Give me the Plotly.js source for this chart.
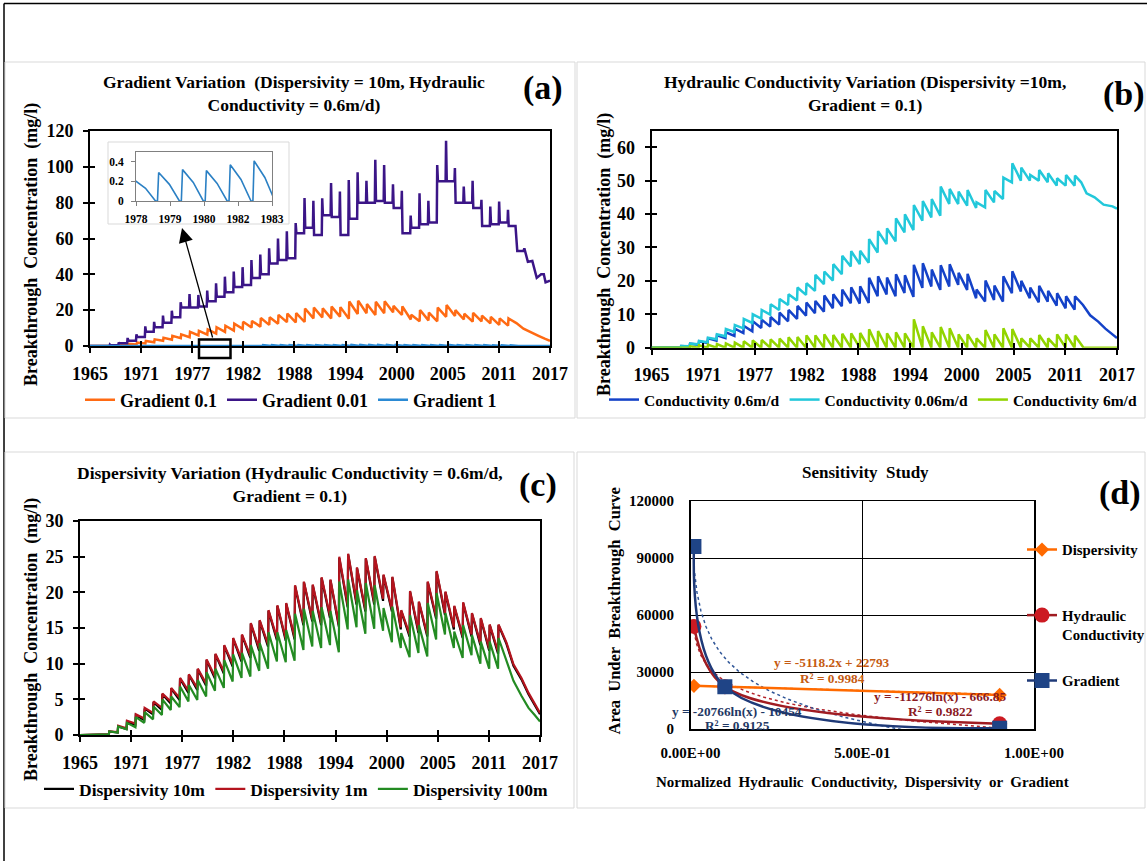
<!DOCTYPE html>
<html>
<head>
<meta charset="utf-8">
<script src="https://cdn.plot.ly/plotly-3.0.1.min.js"></script>
<style>
  html, body { margin: 0; padding: 0; background: #fff; overflow: hidden; }
  #fig { display: block; width: 1147px; height: 861px; overflow: hidden; }
</style>
</head>
<body>
<div id="fig"></div>
<script>
// ---------------------------------------------------------------------------
// Time axis (a), (b), (c)
// ---------------------------------------------------------------------------
const YEAR_LABELS = ['1965', '1971', '1977', '1982', '1988', '1994', '2000', '2005', '2011', '2017'];
const X_START = 1965, X_END = 2017;
const FIRST_YEAR = 1967;                 // first yearly pulse, one value per year up to 2012

// Base case: dispersivity 10 m, conductivity 0.6 m/d, gradient 0.1 (mg/l)
const basePeak = [0.1, 0.5, 1.2, 1.9, 2.8, 3.7, 4.6, 5.7, 6.5, 7.9,
  8.4, 9.2, 10.5, 11.3, 12.5, 13.5, 14.0, 15.6, 16.0, 17.4,
  18.1, 18.4, 20.9, 21.4, 21.0, 22.0, 21.7, 24.8, 25.3, 23.4,
  24.7, 25.0, 22.4, 22.1, 17.4, 20.1, 18.6, 21.4, 22.9, 20.0,
  18.0, 18.5, 17.0, 16.3, 15.4, 15.4];
const baseLow = [0, 0.1, 0.35, 0.85, 1.4, 2.1, 2.9, 3.5, 4.4, 4.9,
  5.9, 6.3, 6.9, 7.9, 8.6, 9.6, 10.3, 10.8, 11.8, 12.4,
  13.3, 13.2, 13.4, 15.4, 15.9, 15.4, 16.4, 15.2, 17.9, 18.3,
  17.3, 18.3, 18.8, 17.3, 14.8, 13.8, 14.3, 13.8, 16.3, 16.8,
  14.8, 13.6, 13.8, 12.6, 11.8, 11.4];
const TAIL_T = [2013.2, 2014.0, 2014.9, 2015.7, 2016.4, 2017.0];
const baseTail = [12.8, 9.7, 7.8, 5.7, 4.1, 2.9];

// Dispersivity 1 m
const disp1Peak = [0.1, 0.5, 1.3, 2.0, 2.9, 3.8, 4.7, 5.8, 6.6, 8.0,
  8.5, 9.3, 10.6, 11.4, 12.6, 13.6, 14.1, 15.7, 16.1, 17.5,
  18.2, 18.5, 21.0, 21.5, 21.1, 22.1, 21.8, 25.0, 25.4, 23.5,
  24.8, 25.1, 22.5, 22.2, 17.5, 20.2, 18.7, 21.5, 23.0, 20.1,
  18.1, 18.6, 17.1, 16.4, 15.5, 15.5];
const disp1Low = [0, 0.1, 0.4, 0.95, 1.6, 2.3, 3.1, 3.8, 4.7, 5.2,
  6.2, 6.6, 7.2, 8.2, 8.9, 9.9, 10.6, 11.1, 12.1, 12.7,
  13.6, 13.5, 13.7, 15.7, 16.2, 15.7, 16.7, 15.5, 18.2, 18.6,
  17.6, 18.6, 19.1, 17.6, 15.1, 14.1, 14.6, 14.1, 16.6, 17.1,
  15.1, 13.9, 14.1, 12.9, 12.1, 11.7];
const disp1Tail = [13.0, 9.9, 8.0, 5.9, 4.3, 3.1];

// Dispersivity 100 m
const disp100Peak = [0.1, 0.5, 1.2, 1.7, 2.5, 3.2, 4.0, 5.0, 5.4, 6.8,
  7.0, 7.7, 8.8, 9.3, 10.5, 11.3, 11.5, 12.6, 12.9, 14.4,
  14.4, 14.7, 17.0, 17.7, 17.4, 17.9, 17.4, 21.5, 21.8, 20.3,
  21.3, 21.0, 17.8, 18.0, 14.3, 16.8, 15.4, 18.5, 19.9, 17.1,
  14.5, 15.4, 14.0, 13.1, 13.1, 13.6];
const disp100Low = [0, 0.1, 0.35, 0.8, 1.1, 1.7, 2.2, 2.8, 3.5, 3.9,
  4.7, 4.9, 5.4, 6.2, 6.6, 7.5, 8.0, 8.2, 9.0, 9.3,
  10.3, 10.2, 10.4, 11.9, 12.4, 12.2, 12.6, 11.6, 14.8, 15.1,
  14.2, 14.9, 14.6, 13.0, 12.2, 10.9, 11.5, 11.0, 13.4, 14.1,
  12.2, 10.8, 11.2, 10.0, 9.3, 9.3];
const disp100Tail = [10.6, 7.6, 5.5, 3.8, 2.8, 1.9];

// Conductivity 0.06 m/d
const cond006Peak = [0.1, 0.5, 1.2, 2.0, 3.0, 4.0, 5.6, 6.8, 8.6, 10.0,
  11.3, 13.0, 14.6, 16.0, 18.0, 19.3, 21.8, 22.8, 25.0, 27.5,
  28.9, 29.0, 32.5, 34.9, 35.7, 38.7, 39.9, 42.7, 43.9, 44.5,
  48.2, 47.5, 46.7, 47.2, 43.5, 47.2, 46.9, 50.9, 55.2, 53.9,
  51.7, 53.2, 52.2, 50.7, 51.7, 51.5];
const cond006Low = [0, 0.1, 0.4, 1.0, 1.6, 2.5, 3.4, 4.7, 5.8, 7.4,
  8.7, 9.9, 11.3, 12.8, 14.1, 15.8, 17.0, 19.0, 20.1, 22.0,
  24.3, 25.0, 25.4, 28.5, 31.0, 31.8, 34.5, 35.2, 38.0, 39.0,
  39.5, 43.0, 43.0, 42.5, 41.8, 42.0, 43.5, 44.5, 49.5, 50.0,
  50.0, 50.0, 49.5, 48.5, 48.5, 48.5];
const cond006TailT = [2013.0, 2013.6, 2014.5, 2015.5, 2016.5, 2017.0];
const cond006Tail = [49.5, 46.2, 45.0, 42.8, 42.3, 41.6];

// Conductivity 6 m/d (falls back to zero between pulses)
const cond6Peak = [0, 0.2, 0.4, 0.7, 0.9, 1.1, 1.3, 1.5, 1.9, 2.2,
  2.3, 2.5, 2.7, 3.1, 3.2, 3.7, 3.7, 4.0, 3.8, 4.2,
  4.3, 4.4, 5.5, 5.0, 4.3, 4.6, 4.3, 8.5, 6.4, 4.6,
  6.2, 5.8, 4.0, 4.0, 2.8, 5.3, 4.0, 5.8, 5.6, 2.8,
  2.8, 3.8, 2.8, 4.0, 4.0, 3.6];
const cond6TailT = [2013.26, 2017.0];
const cond6Tail = [0, 0];

// Gradient 0.01: sharp spike, then a plateau until the next year
const grad001Peak = [0.8, 2.0, 4.5, 6.5, 11.0, 13.5, 17.0, 19.7, 24.4, 29.0,
  28.5, 31.0, 35.0, 38.7, 41.5, 44.0, 48.0, 51.0, 54.5, 60.0,
  64.0, 68.6, 82.6, 81.0, 82.5, 90.9, 86.2, 92.7, 97.0, 92.2,
  103.9, 101.0, 90.3, 86.6, 72.8, 85.3, 81.0, 101.0, 114.5, 99.3,
  89.0, 92.2, 81.6, 77.8, 80.6, 76.0];
const grad001Plateau = [0.4, 1.5, 3.0, 5.0, 8.0, 10.5, 13.0, 16.0, 21.5, 21.5,
  22.0, 25.0, 27.5, 30.0, 33.0, 34.0, 38.0, 40.0, 46.0, 48.0,
  49.0, 63.0, 66.0, 62.0, 73.0, 72.0, 62.0, 71.0, 80.0, 80.0,
  81.0, 80.0, 77.0, 63.0, 66.0, 68.0, 69.0, 92.0, 92.0, 80.0,
  80.0, 77.0, 67.0, 68.0, 69.0, 67.0];
const grad001TailT = [2013.1, 2013.3, 2014.0, 2014.1, 2014.5, 2015.0, 2015.5, 2016.0, 2016.3, 2016.5, 2017.0];
const grad001Tail = [67.0, 53.0, 53.0, 54.5, 47.0, 47.5, 38.0, 40.0, 40.0, 35.5, 36.5];

// Gradient 1: small pulses that decay to zero (shown in the inset)
const grad1Peak = [0.0, 0.01, 0.02, 0.04, 0.06, 0.08, 0.10, 0.12, 0.15, 0.18,
  0.21, 0.29, 0.32, 0.31, 0.37, 0.41, 0.42, 0.45, 0.46, 0.48,
  0.50, 0.50, 0.55, 0.56, 0.55, 0.57, 0.57, 0.62, 0.63, 0.60,
  0.62, 0.62, 0.58, 0.57, 0.48, 0.53, 0.50, 0.55, 0.58, 0.52,
  0.48, 0.48, 0.45, 0.43, 0.42, 0.41];
const grad1Shoulder = [0.0, 0.005, 0.01, 0.02, 0.035, 0.05, 0.06, 0.07, 0.09, 0.11,
  0.13, 0.17, 0.19, 0.18, 0.22, 0.24, 0.25, 0.27, 0.27, 0.29,
  0.30, 0.30, 0.33, 0.33, 0.33, 0.34, 0.34, 0.37, 0.38, 0.36,
  0.37, 0.37, 0.35, 0.34, 0.29, 0.32, 0.30, 0.33, 0.35, 0.31,
  0.29, 0.29, 0.27, 0.26, 0.25, 0.25];
const grad1TailT = [2017.0];
const grad1Tail = [0];

const INSET_LABELS = ['1978', '1979', '1980', '1982', '1983'];
const INSET_X = [1977.6, 1983.3];
const INSET_Y_TICKS = [0, 0.2, 0.4];

// ---------------------------------------------------------------------------
// Sensitivity study (d)
// ---------------------------------------------------------------------------
const NORM_X = [0.01, 0.1, 0.9];
const AREA_DISPERSIVITY = [22700, 22300, 17900];
const AREA_CONDUCTIVITY = [54000, 22300, 2800];
const AREA_GRADIENT = [96000, 22300, 400];
// fitted trendlines as reported on the chart
const DISP_SLOPE = -5118.2, DISP_ICPT = 22793, DISP_R2 = 0.9984;
const COND_A = -11276, COND_B = -666.85, COND_R2 = 0.9822;
const GRAD_A = -20766, GRAD_B = -10454, GRAD_R2 = 0.9125;
const D_X_TICKS = [0, 0.5, 1];
const D_X_LABELS = ['0.00E+00', '5.00E-01', '1.00E+00'];

// ---------------------------------------------------------------------------
// helpers
// ---------------------------------------------------------------------------
const W = 1147, H = 861;
const SERIF = '"Liberation Serif", "Times New Roman", serif';
const fnt = (size, color) => ({ family: SERIF, size: size, color: color || '#000', weight: 'bold' });
const px = v => v / W;          // page pixel -> paper x
const py = v => 1 - v / H;      // page pixel -> paper y

const yearTickVals = YEAR_LABELS.map((_, i) => X_START + i * (X_END - X_START) / (YEAR_LABELS.length - 1));
const insetTickVals = INSET_LABELS.map((_, i) => INSET_X[0] + i * (INSET_X[1] - INSET_X[0]) / (INSET_LABELS.length - 1));

// yearly pulse: value just before the rise, then the peak; linear recession in between
function pulseSeries(peaks, lows, tailT, tailV) {
  const x = [X_START], y = [0];
  peaks.forEach((p, i) => {
    const yr = FIRST_YEAR + i;
    x.push(yr + 0.26, yr + 0.31);
    y.push(typeof lows === 'number' ? lows : lows[i], p);
  });
  return { x: x.concat(tailT), y: y.concat(tailV) };
}
// yearly spike followed by a plateau
function spikeSeries(peaks, plateaus, tailT, tailV) {
  const x = [X_START], y = [0];
  peaks.forEach((p, i) => {
    const yr = FIRST_YEAR + i;
    x.push(yr + 0.20, yr + 0.25, yr + 0.33);
    y.push(i ? plateaus[i - 1] : 0, p, plateaus[i]);
  });
  return { x: x.concat(tailT), y: y.concat(tailV) };
}
// yearly pulse decaying back to zero before the next one
function decaySeries(peaks, shoulders, tailT, tailV) {
  const x = [X_START], y = [0];
  peaks.forEach((p, i) => {
    const yr = FIRST_YEAR + i;
    x.push(yr + 0.50, yr + 0.55, yr + 1.00, yr + 1.42);
    y.push(0, p, shoulders[i], 0);
  });
  return { x: x.concat(tailT), y: y.concat(tailV) };
}

const base = pulseSeries(basePeak, baseLow, TAIL_T, baseTail);
const disp1 = pulseSeries(disp1Peak, disp1Low, TAIL_T, disp1Tail);
const disp100 = pulseSeries(disp100Peak, disp100Low, TAIL_T, disp100Tail);
const cond006 = pulseSeries(cond006Peak, cond006Low, cond006TailT, cond006Tail);
const cond6 = pulseSeries(cond6Peak, 0, cond6TailT, cond6Tail);
const grad001 = spikeSeries(grad001Peak, grad001Plateau, grad001TailT, grad001Tail);
const grad1 = decaySeries(grad1Peak, grad1Shoulder, grad1TailT, grad1Tail);

function line(s, xa, ya, name, color, width, legend) {
  return { type: 'scatter', mode: 'lines', x: s.x, y: s.y, xaxis: xa, yaxis: ya, name: name,
           line: { color: color, width: width }, legend: legend, showlegend: !!legend, hoverinfo: 'skip' };
}
// trendline sample points, from the reported coefficients
function logFit(a, b) {
  const x = [], y = [];
  const n = 160, x0 = NORM_X[0], x1 = NORM_X[NORM_X.length - 1];
  for (let i = 0; i <= n; i++) {
    const v = x0 * Math.pow(x1 / x0, i / n);
    x.push(v); y.push(a * Math.log(v) + b);
  }
  return { x, y };
}
const dispFit = { x: [NORM_X[0], NORM_X[2]], y: [DISP_SLOPE * NORM_X[0] + DISP_ICPT, DISP_SLOPE * NORM_X[2] + DISP_ICPT] };
const condFit = logFit(COND_A, COND_B);
const gradFit = logFit(GRAD_A, GRAD_B);

const C = {
  orange: '#FF6A13', purple: '#3B1587', skyblue: '#2B8AD4',
  blue: '#1442C8', cyan: '#22C8DA', lime: '#92D400',
  black: '#000000', red: '#B4141E', green: '#238B22',
  dOrange: '#FF6A00', dRed: '#A01C22', dRedMk: '#CC1A22', dNavy: '#1F3A78', dNavyMk: '#1F4486'
};

const traces = [
  // (a)
  line(base, 'x', 'y', 'Gradient 0.1', C.orange, 2.5, 'legend'),
  line(grad001, 'x', 'y', 'Gradient 0.01', C.purple, 2.5, 'legend'),
  line(grad1, 'x', 'y', 'Gradient 1', C.skyblue, 2.5, 'legend'),
  line(grad1, 'x2', 'y2', 'Gradient 1 (1978-1983)', '#2B80C4', 1.6, null),
  // (b)
  line(base, 'x3', 'y3', 'Conductivity 0.6m/d', C.blue, 2.5, 'legend2'),
  line(cond006, 'x3', 'y3', 'Conductivity 0.06m/d', C.cyan, 2.5, 'legend2'),
  line(cond6, 'x3', 'y3', 'Conductivity 6m/d', C.lime, 2.5, 'legend2'),
  // (c)
  line(base, 'x4', 'y4', 'Dispersivity 10m', C.black, 2.2, 'legend3'),
  line(disp1, 'x4', 'y4', 'Dispersivity 1m', C.red, 2.2, 'legend3'),
  line(disp100, 'x4', 'y4', 'Dispersivity 100m', C.green, 2.2, 'legend3'),
  // (d) trendlines
  { type: 'scatter', mode: 'lines', x: dispFit.x, y: dispFit.y, xaxis: 'x5', yaxis: 'y5', showlegend: false,
    line: { color: C.dOrange, width: 1.5, dash: 'dot' }, hoverinfo: 'skip' },
  { type: 'scatter', mode: 'lines', x: condFit.x, y: condFit.y, xaxis: 'x5', yaxis: 'y5', showlegend: false,
    line: { color: '#B4232A', width: 1.5, dash: 'dot' }, hoverinfo: 'skip' },
  { type: 'scatter', mode: 'lines', x: gradFit.x, y: gradFit.y, xaxis: 'x5', yaxis: 'y5', showlegend: false,
    line: { color: '#2F5597', width: 1.5, dash: 'dot' }, hoverinfo: 'skip' },
  // (d) data
  { type: 'scatter', mode: 'lines+markers', x: NORM_X, y: AREA_DISPERSIVITY, xaxis: 'x5', yaxis: 'y5',
    name: 'Dispersivity', legend: 'legend4', line: { color: C.dOrange, width: 2.5, shape: 'spline' },
    marker: { symbol: 'diamond', size: 11, color: C.dOrange }, hoverinfo: 'skip' },
  { type: 'scatter', mode: 'lines+markers', x: NORM_X, y: AREA_CONDUCTIVITY, xaxis: 'x5', yaxis: 'y5',
    name: 'Hydraulic<br>Conductivity', legend: 'legend5', line: { color: C.dRed, width: 2.5, shape: 'spline' },
    marker: { symbol: 'circle', size: 15, color: C.dRedMk }, hoverinfo: 'skip' },
  { type: 'scatter', mode: 'lines+markers', x: NORM_X, y: AREA_GRADIENT, xaxis: 'x5', yaxis: 'y5',
    name: 'Gradient', legend: 'legend6', line: { color: C.dNavy, width: 2.5, shape: 'spline' },
    marker: { symbol: 'square', size: 15, color: C.dNavyMk }, hoverinfo: 'skip' },
  // carriers for the inner half of the crossing tick marks
  { type: 'scatter', x: [], y: [], xaxis: 'x6', yaxis: 'y', showlegend: false },
  { type: 'scatter', x: [], y: [], xaxis: 'x', yaxis: 'y6', showlegend: false },
  { type: 'scatter', x: [], y: [], xaxis: 'x7', yaxis: 'y3', showlegend: false },
  { type: 'scatter', x: [], y: [], xaxis: 'x3', yaxis: 'y7', showlegend: false },
  { type: 'scatter', x: [], y: [], xaxis: 'x8', yaxis: 'y4', showlegend: false },
  { type: 'scatter', x: [], y: [], xaxis: 'x4', yaxis: 'y8', showlegend: false }
];

// ---------------------------------------------------------------------------
// axes
// ---------------------------------------------------------------------------
function timeAxis(x0, x1, anchor) {
  return { domain: [px(x0), px(x1)], anchor: anchor, range: [X_START, X_END],
    tickmode: 'array', tickvals: yearTickVals, ticktext: YEAR_LABELS,
    ticks: 'outside', ticklen: 5, tickwidth: 2, tickcolor: '#000', ticklabelstandoff: 5,
    showline: true, linewidth: 2, linecolor: '#000', mirror: true,
    showgrid: false, zeroline: false, tickfont: fnt(18), layer: 'below traces', fixedrange: true };
}
function valueAxis(y0, y1, anchor, range, dtick) {
  return { domain: [py(y1), py(y0)], anchor: anchor, range: range, tickmode: 'linear', tick0: 0, dtick: dtick,
    ticks: 'outside', ticklen: 5, tickwidth: 2, tickcolor: '#000', ticklabelstandoff: 6,
    showline: true, linewidth: 2, linecolor: '#000', mirror: true,
    showgrid: false, zeroline: false, tickfont: fnt(18), layer: 'below traces', fixedrange: true };
}
function innerX(over, anchor) {
  return { overlaying: over, anchor: anchor, side: 'bottom', range: [X_START, X_END], tickmode: 'array',
    tickvals: yearTickVals, ticks: 'inside', ticklen: 5, tickwidth: 2, tickcolor: '#000',
    showticklabels: false, showline: false, showgrid: false, zeroline: false, fixedrange: true };
}
function innerY(over, anchor, range, dtick) {
  return { overlaying: over, anchor: anchor, side: 'left', range: range, tickmode: 'linear', tick0: 0, dtick: dtick,
    ticks: 'inside', ticklen: 5, tickwidth: 2, tickcolor: '#000',
    showticklabels: false, showline: false, showgrid: false, zeroline: false, fixedrange: true };
}
// centred text placed at a page position
function label(x, y, text, font, extra) {
  return Object.assign({ xref: 'paper', yref: 'paper', x: px(x), y: py(y), xanchor: 'center', yanchor: 'middle',
    showarrow: false, text: text, font: font }, extra || {});
}

const layout = {
  width: W, height: H, margin: { l: 0, r: 0, t: 0, b: 0, autoexpand: false },
  paper_bgcolor: '#ffffff', plot_bgcolor: 'rgba(0,0,0,0)',
  hovermode: false, showlegend: true,
  font: fnt(14),

  xaxis: timeAxis(90, 550, 'y'),
  yaxis: valueAxis(131, 346, 'x', [0, 120], 20),
  xaxis3: timeAxis(651.5, 1117, 'y3'),
  yaxis3: valueAxis(130.5, 347.7, 'x3', [0, 65], 10),
  xaxis4: timeAxis(80, 540, 'y4'),
  yaxis4: valueAxis(521, 735, 'x4', [0, 30], 5),
  xaxis6: innerX('x', 'y'),
  yaxis6: innerY('y', 'x', [0, 120], 20),
  xaxis7: innerX('x3', 'y3'),
  yaxis7: innerY('y3', 'x3', [0, 65], 10),
  xaxis8: innerX('x4', 'y4'),
  yaxis8: innerY('y4', 'x4', [0, 30], 5),

  // inset of (a)
  xaxis2: { domain: [px(136), px(272)], anchor: 'y2', range: INSET_X, tickmode: 'array',
    tickvals: insetTickVals, ticktext: INSET_LABELS, ticks: 'outside', ticklen: 4, tickcolor: '#808080',
    ticklabelstandoff: 3, showline: true, linewidth: 1, linecolor: '#808080', mirror: true,
    showgrid: false, zeroline: false, tickfont: fnt(11.5), fixedrange: true },
  yaxis2: { domain: [py(201), py(152)], anchor: 'x2', range: [0, 0.5], tickmode: 'array',
    tickvals: INSET_Y_TICKS, ticktext: INSET_Y_TICKS.map(String), ticks: 'outside', ticklen: 4,
    tickcolor: '#808080', ticklabelstandoff: 5, showline: true, linewidth: 1, linecolor: '#808080', mirror: true,
    showgrid: false, zeroline: false, tickfont: fnt(11.5), fixedrange: true },

  // (d)
  xaxis5: { domain: [px(690.5), px(1034)], anchor: 'y5', range: [0, 1], tickmode: 'array',
    tickvals: D_X_TICKS, ticktext: D_X_LABELS, ticks: '', ticklabelstandoff: 9,
    showline: true, linewidth: 1.5, linecolor: '#000', mirror: true,
    showgrid: true, gridcolor: '#000', gridwidth: 1, zeroline: false, tickfont: fnt(15), fixedrange: true },
  yaxis5: { domain: [py(729), py(501)], anchor: 'x5', range: [0, 120000], tickmode: 'linear', tick0: 0,
    dtick: 30000, tickformat: 'd', ticks: '', ticklabelstandoff: 12,
    showline: true, linewidth: 1.5, linecolor: '#000', mirror: true,
    showgrid: true, gridcolor: '#000', gridwidth: 1, zeroline: false, tickfont: fnt(15), fixedrange: true },

  legend: { orientation: 'h', x: px(80), y: py(400), xanchor: 'left', yanchor: 'middle',
    font: fnt(18), bgcolor: 'rgba(0,0,0,0)', itemwidth: 30 },
  legend2: { orientation: 'h', x: px(604), y: py(400), xanchor: 'left', yanchor: 'middle',
    font: fnt(15.5), bgcolor: 'rgba(0,0,0,0)', itemwidth: 30 },
  legend3: { orientation: 'h', x: px(39), y: py(789), xanchor: 'left', yanchor: 'middle',
    font: fnt(17.5), bgcolor: 'rgba(0,0,0,0)', itemwidth: 30 },
  legend4: { x: px(1022), y: py(550), xanchor: 'left', yanchor: 'middle', font: fnt(14.8),
    bgcolor: 'rgba(0,0,0,0)', itemwidth: 30 },
  legend5: { x: px(1022), y: py(625), xanchor: 'left', yanchor: 'middle', font: fnt(14.8), valign: 'top',
    bgcolor: 'rgba(0,0,0,0)', itemwidth: 30 },
  legend6: { x: px(1022), y: py(681), xanchor: 'left', yanchor: 'middle', font: fnt(14.8),
    bgcolor: 'rgba(0,0,0,0)', itemwidth: 30 },

  shapes: [
    // page frame and panel outlines
    { type: 'line', xref: 'paper', yref: 'paper', x0: px(4), x1: 1, y0: py(3.5), y1: py(3.5), line: { color: '#000', width: 1.5 }, layer: 'below' },
    { type: 'line', xref: 'paper', yref: 'paper', x0: px(4), x1: px(4), y0: py(3.5), y1: 0, line: { color: '#000', width: 1.5 }, layer: 'below' },
    { type: 'rect', xref: 'paper', yref: 'paper', x0: px(5), x1: px(575), y0: py(62), y1: py(418), line: { color: '#d9d9d9', width: 1 }, layer: 'below' },
    { type: 'rect', xref: 'paper', yref: 'paper', x0: px(577), x1: px(1145), y0: py(62), y1: py(418), line: { color: '#d9d9d9', width: 1 }, layer: 'below' },
    { type: 'rect', xref: 'paper', yref: 'paper', x0: px(5), x1: px(574), y0: py(452), y1: py(808), line: { color: '#d9d9d9', width: 1 }, layer: 'below' },
    { type: 'rect', xref: 'paper', yref: 'paper', x0: px(577), x1: px(1145), y0: py(452), y1: py(808), line: { color: '#d9d9d9', width: 1 }, layer: 'below' },
    // inset background
    { type: 'rect', xref: 'paper', yref: 'paper', x0: px(108), x1: px(289), y0: py(142), y1: py(224),
      fillcolor: '#ffffff', line: { color: '#d9d9d9', width: 1 }, layer: 'below' },
    // highlighted window on the time axis of (a)
    { type: 'rect', xref: 'paper', yref: 'paper', x0: px(199), x1: px(230.5), y0: py(339.5), y1: py(358),
      line: { color: '#000', width: 2.5 }, layer: 'above' }
  ],

  annotations: [
    // panel titles
    label(293.5, 93, 'Gradient Variation  (Dispersivity = 10m, Hydraulic<br>Conductivity = 0.6m/d)', fnt(17.5)),
    label(865, 93, 'Hydraulic Conductivity Variation (Dispersivity =10m,<br>Gradient = 0.1)', fnt(17.5)),
    label(290, 484, 'Dispersivity Variation (Hydraulic Conductivity = 0.6m/d,<br>Gradient = 0.1)', fnt(17.5)),
    label(865.5, 472, 'Sensitivity  Study', fnt(17)),
    // panel letters
    label(543, 88, '(a)', fnt(34)),
    label(1124, 94, '(b)', fnt(34)),
    label(538, 485, '(c)', fnt(34)),
    label(1120, 493, '(d)', fnt(34)),
    // axis titles
    label(31, 245, 'Breakthrough  Concentration  (mg/l)', fnt(18), { textangle: -90 }),
    label(604, 255, 'Breakthrough  Concentration  (mg/l)', fnt(18), { textangle: -90 }),
    label(31, 640, 'Breakthrough  Concentration  (mg/l)', fnt(18), { textangle: -90 }),
    label(613.5, 611, 'Area  Under  Breakthrough  Curve', fnt(16.5), { textangle: -90 }),
    label(862, 782, 'Normalized  Hydraulic  Conductivity,  Dispersivity  or  Gradient', fnt(15)),
    // trendline equations
    label(832, 662, 'y = ' + DISP_SLOPE + 'x + ' + DISP_ICPT, fnt(13.3, '#C55A11')),
    label(832, 678, 'R² = ' + DISP_R2, fnt(13.3, '#C55A11')),
    label(940, 696, 'y = ' + COND_A + 'ln(x) - ' + Math.abs(COND_B), fnt(13.3, '#8B1A1F')),
    label(940, 711, 'R² = ' + COND_R2, fnt(13.3, '#8B1A1F')),
    label(737, 711, 'y = ' + GRAD_A + 'ln(x) - ' + Math.abs(GRAD_B), fnt(13.3, '#1F3864')),
    label(737, 725, 'R² = ' + GRAD_R2, fnt(13.3, '#1F3864')),
    // pointer from the highlighted window up to the inset
    { xref: 'paper', yref: 'paper', x: px(182), y: py(228), ax: 31, ay: 111, text: '', showarrow: true,
      arrowhead: 2, arrowsize: 2.2, arrowwidth: 1.3, arrowcolor: '#000' }
  ]
};

Plotly.newPlot('fig', traces, layout, { staticPlot: true, displayModeBar: false });
</script>
</body>
</html>
